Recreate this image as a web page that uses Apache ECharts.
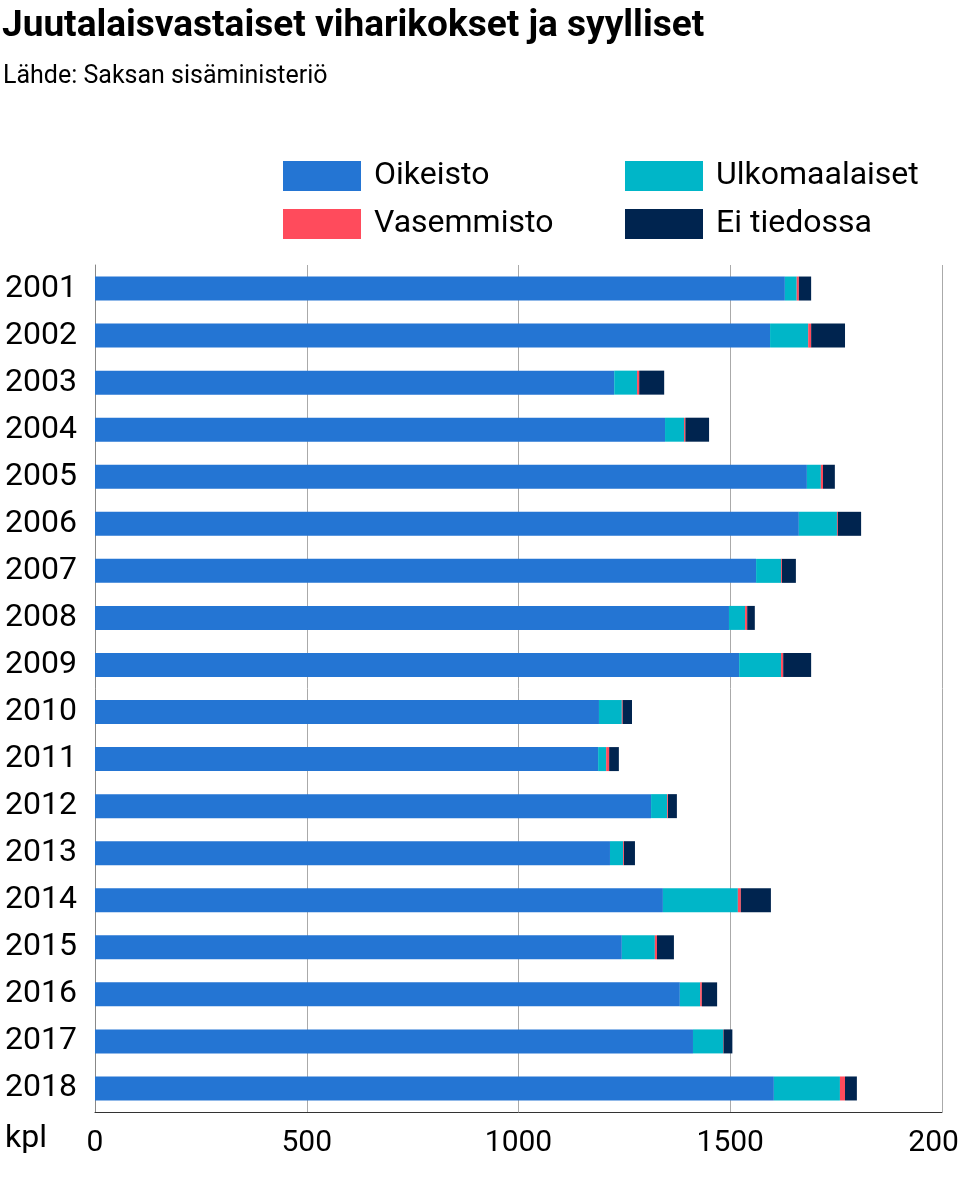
<!DOCTYPE html>
<html><head><meta charset="utf-8">
<script src="https://cdn.jsdelivr.net/npm/echarts@6/dist/echarts.min.js"></script>
<style>html,body{margin:0;padding:0;background:#fff}#c{width:959px;height:1192px}</style>
</head><body><div id="c"></div>
<script>
const years = ['2001','2002','2003','2004','2005','2006','2007','2008','2009','2010','2011','2012','2013','2014','2015','2016','2017','2018'];
const oikeisto = [1629,1594,1226,1346,1681,1662,1561,1497,1521,1190,1188,1313,1216,1341,1244,1381,1412,1603];
const ulkomaalaiset = [28,90,54,45,33,90,59,38,99,54,19,38,31,177,78,48,71,156];
const vasemmisto = [5,7,5,3,5,2,2,5,5,2,7,2,2,7,5,4,1,12];
const eiTiedossa = [29,80,59,56,28,55,33,18,66,22,23,21,26,71,40,36,21,28];
const xTicks = [0,500,1000,1500,2000];

const F = 'Roboto, sans-serif';
const mk = (name, data, color) => ({name, type:'bar', stack:'s', data, barWidth:24, itemStyle:{color}});
const chart = echarts.init(document.getElementById('c'));
chart.setOption({
  animation:false,
  legend:[
    {left:278, top:155, orient:'vertical', itemWidth:78, itemHeight:30, itemGap:16, data:['Oikeisto','Vasemmisto'],
      textStyle:{fontFamily:F, fontSize:32, color:'#000', padding:[0,0,0,8]}, icon:'rect'},
    {left:620, top:155, orient:'vertical', itemWidth:78, itemHeight:30, itemGap:16, data:['Ulkomaalaiset','Ei tiedossa'],
      textStyle:{fontFamily:F, fontSize:32, color:'#000', padding:[0,0,0,8]}, icon:'rect'}
  ],
  grid:{left:95, right:17, top:265, bottom:80, outerBoundsMode:'none', containLabel:false},
  xAxis:{type:'value', min:0, max:2000, interval:500,
    axisLabel:{fontFamily:F, fontSize:30, color:'#000', margin:16, formatter:v=>xTicks.includes(v)?String(v):''},
    splitLine:{lineStyle:{color:'#aaa'}}, axisLine:{show:true, lineStyle:{color:'#333'}}},
  yAxis:{type:'category', data:years, inverse:true,
    axisLabel:{fontFamily:F, fontSize:32, color:'#000', align:'left', margin:90},
    axisTick:{show:false}, axisLine:{lineStyle:{color:'#888'}}},
  graphic:[
    {type:'text', left:2, top:8, style:{text:'Juutalaisvastaiset viharikokset ja syylliset', font:'bold 37px Roboto', fill:'#000'}},
    {type:'text', left:3, top:64, style:{text:'Lähde: Saksan sisäministeriö', font:'25px Roboto', fill:'#000'}},
    {type:'text', left:5, top:1123, style:{text:'kpl', font:'32px Roboto', fill:'#000'}}
  ],
  series:[
    mk('Oikeisto', oikeisto, '#2475d3'),
    mk('Ulkomaalaiset', ulkomaalaiset, '#00b6c8'),
    mk('Vasemmisto', vasemmisto, '#ff4b5c'),
    mk('Ei tiedossa', eiTiedossa, '#00244f')
  ]
});
</script></body></html>
